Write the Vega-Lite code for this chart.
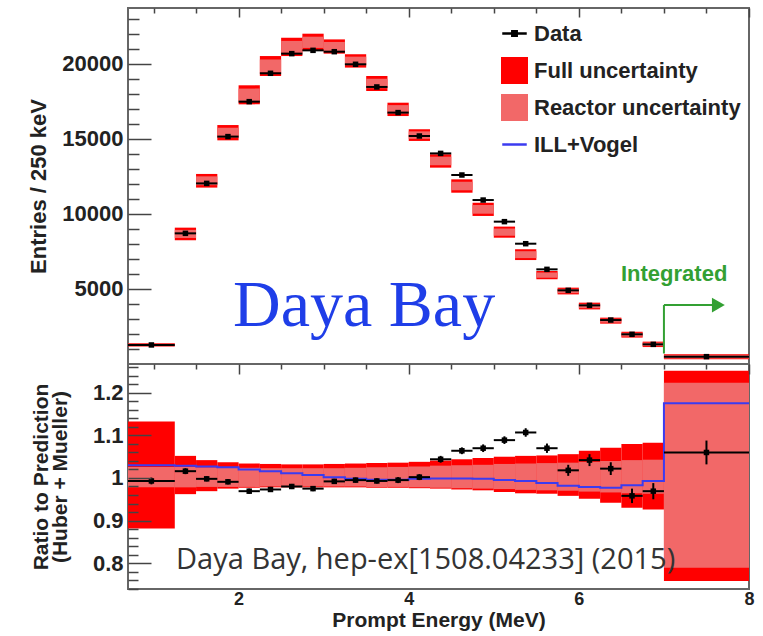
{
  "$schema": "https://vega.github.io/schema/vega-lite/v6.json",
  "background": "white",
  "padding": {"left": 26, "top": 7, "right": 12, "bottom": 4},
  "bounds": "flush",
  "spacing": 0,
  "resolve": {"scale": {"color": "shared"}},
  "datasets": {
    "bins": [
      {"lo": 0.7, "hi": 1.25, "c": 0.975, "d": 1270, "pl": 1170, "ph": 1390, "rl": 1210, "rh": 1350, "r": 0.993, "rlo": 0.985, "rhi": 1.001, "fl": 0.881, "fh": 1.133, "ql": 0.978, "qh": 1.026},
      {"lo": 1.25, "hi": 1.5, "c": 1.375, "d": 8710, "pl": 8250, "ph": 9090, "rl": 8400, "rh": 8940, "r": 1.016, "rlo": 1.009, "rhi": 1.023, "fl": 0.962, "fh": 1.052, "ql": 0.978, "qh": 1.026},
      {"lo": 1.5, "hi": 1.75, "c": 1.625, "d": 12040, "pl": 11760, "ph": 12670, "rl": 11920, "rh": 12510, "r": 0.998, "rlo": 0.992, "rhi": 1.004, "fl": 0.969, "fh": 1.042, "ql": 0.979, "qh": 1.025},
      {"lo": 1.75, "hi": 2.0, "c": 1.875, "d": 15160, "pl": 14910, "ph": 15930, "rl": 15090, "rh": 15750, "r": 0.991, "rlo": 0.985, "rhi": 0.997, "fl": 0.975, "fh": 1.037, "ql": 0.979, "qh": 1.025},
      {"lo": 2.0, "hi": 2.25, "c": 2.125, "d": 17490, "pl": 17310, "ph": 18580, "rl": 17530, "rh": 18360, "r": 0.969, "rlo": 0.963, "rhi": 0.975, "fl": 0.977, "fh": 1.034, "ql": 0.979, "qh": 1.024},
      {"lo": 2.25, "hi": 2.5, "c": 2.375, "d": 19380, "pl": 19200, "ph": 20530, "rl": 19430, "rh": 20300, "r": 0.973, "rlo": 0.967, "rhi": 0.979, "fl": 0.978, "fh": 1.033, "ql": 0.98, "qh": 1.023},
      {"lo": 2.5, "hi": 2.75, "c": 2.625, "d": 20690, "pl": 20530, "ph": 21750, "rl": 20740, "rh": 21540, "r": 0.98, "rlo": 0.974, "rhi": 0.986, "fl": 0.978, "fh": 1.032, "ql": 0.98, "qh": 1.023},
      {"lo": 2.75, "hi": 3.0, "c": 2.875, "d": 20910, "pl": 20870, "ph": 22020, "rl": 21070, "rh": 21820, "r": 0.975, "rlo": 0.969, "rhi": 0.981, "fl": 0.978, "fh": 1.032, "ql": 0.98, "qh": 1.023},
      {"lo": 3.0, "hi": 3.25, "c": 3.125, "d": 20820, "pl": 20690, "ph": 21640, "rl": 20860, "rh": 21470, "r": 0.992, "rlo": 0.986, "rhi": 0.998, "fl": 0.978, "fh": 1.033, "ql": 0.98, "qh": 1.023},
      {"lo": 3.25, "hi": 3.5, "c": 3.375, "d": 19980, "pl": 19760, "ph": 20650, "rl": 19920, "rh": 20490, "r": 0.995, "rlo": 0.989, "rhi": 1.001, "fl": 0.978, "fh": 1.034, "ql": 0.98, "qh": 1.024},
      {"lo": 3.5, "hi": 3.75, "c": 3.625, "d": 18470, "pl": 18200, "ph": 19200, "rl": 18380, "rh": 19020, "r": 0.993, "rlo": 0.987, "rhi": 0.999, "fl": 0.977, "fh": 1.035, "ql": 0.979, "qh": 1.025},
      {"lo": 3.75, "hi": 4.0, "c": 3.875, "d": 16760, "pl": 16530, "ph": 17420, "rl": 16690, "rh": 17260, "r": 0.995, "rlo": 0.988, "rhi": 1.002, "fl": 0.977, "fh": 1.036, "ql": 0.979, "qh": 1.026},
      {"lo": 4.0, "hi": 4.25, "c": 4.125, "d": 15200, "pl": 14870, "ph": 15650, "rl": 15010, "rh": 15510, "r": 1.002, "rlo": 0.995, "rhi": 1.009, "fl": 0.976, "fh": 1.038, "ql": 0.978, "qh": 1.027},
      {"lo": 4.25, "hi": 4.5, "c": 4.375, "d": 14040, "pl": 13090, "ph": 13980, "rl": 13250, "rh": 13820, "r": 1.044, "rlo": 1.036, "rhi": 1.052, "fl": 0.975, "fh": 1.041, "ql": 0.977, "qh": 1.029},
      {"lo": 4.5, "hi": 4.75, "c": 4.625, "d": 12600, "pl": 11420, "ph": 12310, "rl": 11580, "rh": 12150, "r": 1.064, "rlo": 1.056, "rhi": 1.072, "fl": 0.973, "fh": 1.044, "ql": 0.976, "qh": 1.03},
      {"lo": 4.75, "hi": 5.0, "c": 4.875, "d": 10930, "pl": 9870, "ph": 10750, "rl": 10020, "rh": 10600, "r": 1.07, "rlo": 1.061, "rhi": 1.079, "fl": 0.971, "fh": 1.047, "ql": 0.975, "qh": 1.031},
      {"lo": 5.0, "hi": 5.25, "c": 5.125, "d": 9490, "pl": 8420, "ph": 9160, "rl": 8550, "rh": 9030, "r": 1.089, "rlo": 1.08, "rhi": 1.098, "fl": 0.967, "fh": 1.05, "ql": 0.974, "qh": 1.033},
      {"lo": 5.25, "hi": 5.5, "c": 5.375, "d": 8020, "pl": 6930, "ph": 7650, "rl": 7060, "rh": 7520, "r": 1.107, "rlo": 1.097, "rhi": 1.117, "fl": 0.964, "fh": 1.052, "ql": 0.972, "qh": 1.034},
      {"lo": 5.5, "hi": 5.75, "c": 5.625, "d": 6310, "pl": 5650, "ph": 6200, "rl": 5750, "rh": 6100, "r": 1.07, "rlo": 1.059, "rhi": 1.081, "fl": 0.963, "fh": 1.053, "ql": 0.971, "qh": 1.035},
      {"lo": 5.75, "hi": 6.0, "c": 5.875, "d": 4910, "pl": 4640, "ph": 5090, "rl": 4720, "rh": 5010, "r": 1.018, "rlo": 1.005, "rhi": 1.031, "fl": 0.958, "fh": 1.056, "ql": 0.97, "qh": 1.036},
      {"lo": 6.0, "hi": 6.25, "c": 6.125, "d": 3910, "pl": 3640, "ph": 4090, "rl": 3720, "rh": 4010, "r": 1.042, "rlo": 1.028, "rhi": 1.056, "fl": 0.951, "fh": 1.064, "ql": 0.968, "qh": 1.038},
      {"lo": 6.25, "hi": 6.5, "c": 6.375, "d": 2930, "pl": 2690, "ph": 3090, "rl": 2760, "rh": 3020, "r": 1.022, "rlo": 1.007, "rhi": 1.037, "fl": 0.942, "fh": 1.071, "ql": 0.966, "qh": 1.04},
      {"lo": 6.5, "hi": 6.75, "c": 6.625, "d": 1980, "pl": 1760, "ph": 2150, "rl": 1830, "rh": 2080, "r": 0.958, "rlo": 0.941, "rhi": 0.975, "fl": 0.93, "fh": 1.08, "ql": 0.964, "qh": 1.042},
      {"lo": 6.75, "hi": 7.0, "c": 6.875, "d": 1310, "pl": 1130, "ph": 1490, "rl": 1190, "rh": 1430, "r": 0.969, "rlo": 0.95, "rhi": 0.988, "fl": 0.926, "fh": 1.083, "ql": 0.963, "qh": 1.043},
      {"lo": 7.0, "hi": 8.0, "c": 7.5, "d": 490, "pl": 310, "ph": 650, "rl": 370, "rh": 590, "r": 1.06, "rlo": 1.032, "rhi": 1.088, "fl": 0.758, "fh": 1.252, "ql": 0.789, "qh": 1.224}
    ],
    "vogel": [
      {"e": 0.7, "v": 1.03}, {"e": 1.25, "v": 1.029}, {"e": 1.5, "v": 1.027}, {"e": 1.75, "v": 1.025},
      {"e": 2.0, "v": 1.02}, {"e": 2.25, "v": 1.016}, {"e": 2.5, "v": 1.011}, {"e": 2.75, "v": 1.007},
      {"e": 3.0, "v": 1.002}, {"e": 3.25, "v": 0.998}, {"e": 3.5, "v": 0.996}, {"e": 3.75, "v": 0.996},
      {"e": 4.0, "v": 0.998}, {"e": 4.25, "v": 0.999}, {"e": 4.5, "v": 0.999}, {"e": 4.75, "v": 0.998},
      {"e": 5.0, "v": 0.995}, {"e": 5.25, "v": 0.993}, {"e": 5.5, "v": 0.988}, {"e": 5.75, "v": 0.982},
      {"e": 6.0, "v": 0.979}, {"e": 6.25, "v": 0.977}, {"e": 6.5, "v": 0.983}, {"e": 6.75, "v": 0.993},
      {"e": 7.0, "v": 1.176}, {"e": 8.0, "v": 1.176}
    ]
  },
  "config": {
    "view": {"stroke": "#666666", "strokeWidth": 2},
    "axis": {
      "domain": false, "zindex": 1,
      "labelFont": "Liberation Sans", "labelFontWeight": "bold", "labelFontSize": 22, "labelColor": "#222222",
      "titleFont": "Liberation Sans", "titleFontWeight": "bold", "titleFontSize": 22, "titleColor": "#222222",
      "gridColor": "#444444", "gridWidth": 1.5, "gridOpacity": 1,
      "labelOverlap": false, "labelFlush": false
    },
    "legend": {
      "orient": "none", "legendX": 373, "legendY": 12,
      "labelFont": "Liberation Sans", "labelFontSize": 22, "labelFontWeight": "bold", "labelColor": "#222222", "labelLimit": 400,
      "symbolSize": 600, "rowPadding": 2, "labelOffset": 6, "padding": 0
    }
  },
  "vconcat": [
    {
      "width": 621, "height": 356,
      "resolve": {"axis": {"x": "independent", "y": "independent"}},
      "layer": [
        {
          "data": {"name": "bins"},
          "mark": {"type": "rect"},
          "encoding": {
            "x": {"field": "lo", "type": "quantitative", "scale": {"domain": [0.7, 8], "nice": false, "zero": false},
                  "axis": {"orient": "bottom", "values": [2, 4, 6, 8], "labels": false, "ticks": false, "title": null, "grid": true, "gridDash": [9, 2000], "zindex": 1}},
            "x2": {"field": "hi"},
            "y": {"field": "pl", "type": "quantitative", "scale": {"domain": [0, 23733], "nice": false, "zero": false},
                  "axis": {"orient": "left", "values": [5000, 10000, 15000, 20000], "ticks": false, "format": "d",
                           "grid": true, "gridDash": [23, 2000], "zindex": 1,
                           "labelPadding": 5, "title": "Entries / 250 keV", "titlePadding": 11}},
            "y2": {"field": "ph"},
            "color": {"datum": "Full uncertainty", "type": "nominal",
                      "scale": {"domain": ["Data", "Full uncertainty", "Reactor uncertainty", "ILL+Vogel"], "range": ["#000000", "#ff0000", "#f26868", "#3b3bf0"]},
                      "legend": {"title": null,
                        "encode": {"symbols": {"update": {
                          "shape": {"signal": "datum.value === 'Data' ? 'M-1,-1M-1,0L1,0M-0.18,-0.18L0.18,-0.18L0.18,0.18L-0.18,0.18ZM1,1' : datum.value === 'ILL+Vogel' ? 'M-1,-1M-1,0L1,0M1,1' : 'square'"},
                          "fill": {"signal": "datum.value === 'Full uncertainty' ? '#ff0000' : datum.value === 'Reactor uncertainty' ? '#d6d6d6' : datum.value === 'Data' ? '#000000' : 'transparent'"},
                          "stroke": {"signal": "datum.value === 'Data' ? '#000000' : datum.value === 'ILL+Vogel' ? '#6a6aff' : 'transparent'"},
                          "strokeWidth": {"value": 2.5},
                          "opacity": {"value": 1}, "fillOpacity": {"value": 1}, "strokeOpacity": {"value": 1}
                        }}}}}
          }
        },
        {
          "data": {"name": "bins"},
          "mark": {"type": "rect"},
          "encoding": {
            "x": {"field": "lo", "type": "quantitative",
                  "axis": {"orient": "bottom", "values": [1, 1.5, 2.5, 3, 3.5, 4.5, 5, 5.5, 6.5, 7, 7.5], "labels": false, "ticks": false, "title": null, "grid": true, "gridDash": [5, 2000], "zindex": 1}},
            "x2": {"field": "hi"},
            "y": {"field": "rl", "type": "quantitative",
                  "axis": {"orient": "left", "values": [1000, 2000, 3000, 4000, 6000, 7000, 8000, 9000, 11000, 12000, 13000, 14000, 16000, 17000, 18000, 19000, 21000, 22000, 23000], "labels": false, "ticks": false, "title": null, "grid": true, "gridDash": [11, 2000], "zindex": 1}},
            "y2": {"field": "rh"},
            "color": {"datum": "Reactor uncertainty", "type": "nominal"}
          }
        },
        {
          "data": {"name": "bins"},
          "mark": {"type": "rule", "strokeWidth": 2},
          "encoding": {
            "x": {"field": "lo", "type": "quantitative", "axis": null},
            "x2": {"field": "hi"},
            "y": {"field": "d", "type": "quantitative", "axis": null},
            "color": {"datum": "Data", "type": "nominal"}
          }
        },
        {
          "data": {"name": "bins"},
          "mark": {"type": "point", "filled": true, "shape": "square", "size": 30, "opacity": 1},
          "encoding": {
            "x": {"field": "c", "type": "quantitative", "axis": null},
            "y": {"field": "d", "type": "quantitative", "axis": null},
            "color": {"datum": "Data", "type": "nominal"}
          }
        },
        {
          "data": {"values": [{}]},
          "mark": {"type": "text", "font": "Liberation Serif", "fontSize": 66, "align": "left", "baseline": "alphabetic", "color": "#1f3ee8", "text": "Daya Bay"},
          "encoding": {
            "x": {"datum": 1.935, "type": "quantitative", "axis": null},
            "y": {"datum": 2533, "type": "quantitative", "axis": null}
          }
        },
        {
          "data": {"values": [{}]},
          "mark": {"type": "text", "font": "Liberation Sans", "fontWeight": "bold", "fontSize": 22, "align": "center", "baseline": "middle", "color": "#33a033", "text": "Integrated"},
          "encoding": {
            "x": {"datum": 7.12, "type": "quantitative", "axis": null},
            "y": {"datum": 5967, "type": "quantitative", "axis": null}
          }
        },
        {
          "data": {"values": [{}]},
          "mark": {"type": "rule", "color": "#33a033", "strokeWidth": 2},
          "encoding": {
            "x": {"datum": 7.0, "type": "quantitative", "axis": null},
            "y": {"datum": 700, "type": "quantitative", "axis": null},
            "y2": {"datum": 3930}
          }
        },
        {
          "data": {"values": [{}]},
          "mark": {"type": "rule", "color": "#33a033", "strokeWidth": 2},
          "encoding": {
            "x": {"datum": 7.0, "type": "quantitative", "axis": null},
            "x2": {"datum": 7.58},
            "y": {"datum": 3930, "type": "quantitative", "axis": null}
          }
        },
        {
          "data": {"values": [{}]},
          "mark": {"type": "point", "shape": "triangle-right", "filled": true, "size": 220, "color": "#33a033", "opacity": 1},
          "encoding": {
            "x": {"datum": 7.64, "type": "quantitative", "axis": null},
            "y": {"datum": 3930, "type": "quantitative", "axis": null}
          }
        }
      ]
    },
    {
      "width": 621, "height": 225,
      "resolve": {"axis": {"x": "independent", "y": "independent"}},
      "layer": [
        {
          "data": {"name": "bins"},
          "mark": {"type": "rect"},
          "encoding": {
            "x": {"field": "lo", "type": "quantitative", "scale": {"domain": [0.7, 8], "nice": false, "zero": false},
                  "axis": {"orient": "bottom", "values": [2, 4, 6, 8], "ticks": false, "format": "d", "labelFontSize": 18,
                           "grid": true, "gridDash": [10, 2000], "zindex": 1,
                           "labelPadding": 1, "title": "Prompt Energy (MeV)", "titleFontSize": 21, "titlePadding": 1}},
            "x2": {"field": "hi"},
            "y": {"field": "fl", "type": "quantitative", "scale": {"domain": [0.739, 1.268], "nice": false, "zero": false},
                  "axis": {"orient": "left", "values": [0.8, 0.9, 1, 1.1, 1.2], "ticks": false,
                           "grid": true, "gridDash": [23, 2000], "zindex": 1,
                           "labelExpr": "toString(datum.value)",
                           "labelPadding": 5, "title": ["Ratio to Prediction", "(Huber + Mueller)"], "titleFontSize": 21, "titleLineHeight": 19, "titlePadding": 22}},
            "y2": {"field": "fh"},
            "color": {"datum": "Full uncertainty", "type": "nominal"}
          }
        },
        {
          "data": {"name": "bins"},
          "mark": {"type": "rect"},
          "encoding": {
            "x": {"field": "lo", "type": "quantitative",
                  "axis": {"orient": "bottom", "values": [1, 1.5, 2.5, 3, 3.5, 4.5, 5, 5.5, 6.5, 7, 7.5], "labels": false, "ticks": false, "title": null, "grid": true, "gridDash": [5, 2000], "zindex": 1}},
            "x2": {"field": "hi"},
            "y": {"field": "ql", "type": "quantitative",
                  "axis": {"orient": "left", "values": [0.74, 0.76, 0.78, 0.82, 0.84, 0.86, 0.88, 0.92, 0.94, 0.96, 0.98, 1.02, 1.04, 1.06, 1.08, 1.12, 1.14, 1.16, 1.18, 1.22, 1.24, 1.26], "labels": false, "ticks": false, "title": null, "grid": true, "gridDash": [10, 2000], "zindex": 1}},
            "y2": {"field": "qh"},
            "color": {"datum": "Reactor uncertainty", "type": "nominal"}
          }
        },
        {
          "data": {"name": "vogel"},
          "mark": {"type": "line", "interpolate": "step-after", "strokeWidth": 2},
          "encoding": {
            "x": {"field": "e", "type": "quantitative", "axis": null},
            "y": {"field": "v", "type": "quantitative", "axis": null},
            "color": {"datum": "ILL+Vogel", "type": "nominal"}
          }
        },
        {
          "data": {"name": "bins"},
          "mark": {"type": "rule", "strokeWidth": 2},
          "encoding": {
            "x": {"field": "lo", "type": "quantitative", "axis": null},
            "x2": {"field": "hi"},
            "y": {"field": "r", "type": "quantitative", "axis": null},
            "color": {"datum": "Data", "type": "nominal"}
          }
        },
        {
          "data": {"name": "bins"},
          "mark": {"type": "rule", "strokeWidth": 2},
          "encoding": {
            "x": {"field": "c", "type": "quantitative", "axis": null},
            "y": {"field": "rlo", "type": "quantitative", "axis": null},
            "y2": {"field": "rhi"},
            "color": {"datum": "Data", "type": "nominal"}
          }
        },
        {
          "data": {"name": "bins"},
          "mark": {"type": "point", "filled": true, "shape": "square", "size": 30, "opacity": 1},
          "encoding": {
            "x": {"field": "c", "type": "quantitative", "axis": null},
            "y": {"field": "r", "type": "quantitative", "axis": null},
            "color": {"datum": "Data", "type": "nominal"}
          }
        },
        {
          "data": {"values": [{}]},
          "mark": {"type": "text", "font": "Open Sans", "fontSize": 29, "align": "left", "baseline": "alphabetic", "color": "#333333", "text": "Daya Bay, hep-ex[1508.04233] (2015)"},
          "encoding": {
            "x": {"datum": 1.265, "type": "quantitative", "axis": null},
            "y": {"datum": 0.786, "type": "quantitative", "axis": null}
          }
        }
      ]
    }
  ]
}
